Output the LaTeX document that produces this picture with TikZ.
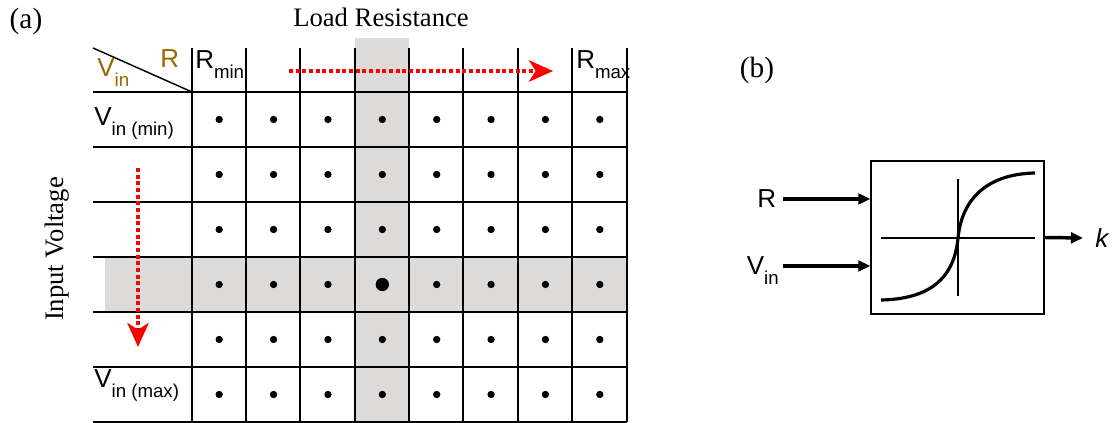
\documentclass[tikz,border=0pt]{standalone}
\usepackage{fontspec}
\setmainfont{Liberation Serif}
\setsansfont{Liberation Sans}
\usetikzlibrary{arrows.meta, positioning, calc}
\definecolor{rbrown}  {RGB}{153,102,  0}
\definecolor{cellgray}{RGB}{220,219,217}
\definecolor{sweep}   {RGB}{255,  0,  0}
\newcommand{\lowsub}[1]{\raisebox{-7.5pt}[0pt][0pt]{\fontsize{14}{14}\selectfont #1}}
\tikzset{
  % Sans labels of the table
  HL/.style={font=\fontsize{19.5}{19.5}\selectfont\sffamily,inner sep=0pt,
             anchor=base west},
  % Serif captions
  CAP/.style={font=\fontsize{20}{20}\selectfont,inner sep=0pt},
  PL/.style={font=\fontsize{22}{22}\selectfont,inner sep=0pt},
  GL/.style={line width=1.3pt},
  Dot/.style={circle,fill=black,inner sep=0pt,minimum size=#1},
  Dot/.default=5.5pt,
  % Arrows
  Sweep/.style={-{Stealth[length=18pt,width=16pt,inset=5pt]},line width=3pt,
                color=sweep,dash pattern=on 3pt off 2pt},
  Arr/.style={-{Triangle[length=9pt,width=8pt]},line width=2.6pt},
}
\begin{document}
\begin{tikzpicture}[x=0.75pt,y=-0.75pt]
  \useasboundingbox (0,0) rectangle (1115,423);
  % shaded row and column
  \fill[cellgray] (105,257) rectangle (627,312);
  \fill[cellgray] (355,38) rectangle (409,422);
  % table lines
  \foreach \y in {92,147,202,257,312,367,422}
    \draw[GL] (93,\y) -- (627,\y);
  \foreach \x in {192,246,300,355,409,463,518,572,627}
    \draw[GL] (\x,48) -- (\x,422);
  \draw[line width=1.1pt] (93,48) -- (192,92);
  % operating points
  \foreach \r in {1,...,6}
    \foreach \c in {1,...,8}{
      \pgfmathsetmacro\ds{(\r==4 && \c==4) ? 10 : 5.5}
      \node[Dot=\ds pt] (d-\r-\c) at ({192+54.375*(\c-0.5)},{92+55*(\r-0.5)}) {};
    }
  % labels
  \node[HL,text=rbrown] at (97,77) (vhead) {V\lowsub{in}};
  \node[HL,text=rbrown] at (160,68) (rhead) {R};
  \node[HL] at (195,69) (rmin) {R\lowsub{min}};
  \node[HL] at (576,69) (rmax) {R\lowsub{max}};
  \node[HL] at (94,126) (vmin) {V\lowsub{in (min)}};
  \node[HL] at (94,388) (vmax) {V\lowsub{in (max)}};
  \node[PL] at (26,21) (capa) {(a)};
  \node[CAP] at (381,17) (capload) {Load Resistance};
  \node[CAP,rotate=90] at (57,249) (capin) {Input Voltage};
  % sweep directions
  \coordinate (rs) at (289,71);
  \coordinate (re) at (553,71);
  \coordinate (vs) at (138,168);
  \coordinate (ve) at (138,347);
  \draw[Sweep] (rs) -- (re);
  \draw[Sweep] (vs) -- (ve);
  % (b) block
  \node[PL] at (757,70) (capb) {(b)};
  \node[draw,line width=1pt,minimum width=129.75pt,minimum height=114.75pt,
        inner sep=0pt] at (957.5,237.5) (blk) {};
  \draw[line width=0.9pt] (881,238) -- (1035,238);
  \draw[line width=0.9pt] (958,179) -- (958,296);
  \draw[line width=2.4pt] (881,300) .. controls (928,299) and (954,280) .. (958,238)
        .. controls (962,198) and (988,174) .. (1035,173);
  \node[HL,anchor=east,inner xsep=5pt] at (783,199) (inr) {R};
  \node[HL,anchor=east,inner xsep=3pt] at (783,266) (inv) {V\lowsub{in}};
  \node[font=\fontsize{19.5}{19.5}\selectfont\sffamily\itshape,anchor=west,
        inner xsep=9pt] at (1083,238) (outk) {k};
  \draw[Arr] (inr.east) -- (inr.east -| blk.west);
  \draw[Arr] (inv.east) -- (inv.east -| blk.west);
  \draw[Arr] (blk.east) -- (outk.west);
\end{tikzpicture}
\end{document}
